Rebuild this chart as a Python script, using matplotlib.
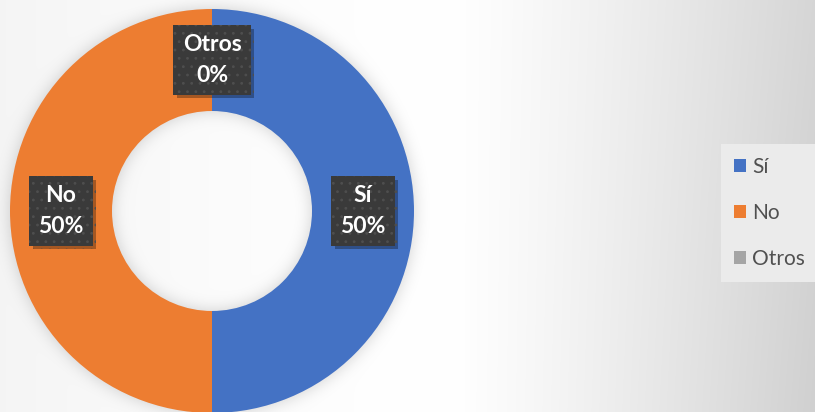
import numpy as np
import matplotlib
matplotlib.use("Agg")
import matplotlib.pyplot as plt
import matplotlib.patheffects as pe

### answers
labels = ["Sí", "No", "Otros"]
values = [50, 50, 0]
colors = ["#4472C4", "#ED7D31", "#A5A5A5"]

W, H = 815, 412
cx, cy = 212, 201          # donut centre (pixels, y up)
r_out, r_in = 202, 100

plt.rcParams['font.family'] = ['Lato', 'DejaVu Sans']
plt.rcParams['hatch.linewidth'] = 0.8

fig = plt.figure(figsize=(W / 100, H / 100), dpi=100)
ax = fig.add_axes([0, 0, 1, 1])

# background: white in the middle, grey towards the right edge
xx, yy = np.meshgrid(np.arange(W) + 0.5, np.arange(H) + 0.5)
right = np.clip((xx - 450) / (W - 450), 0, 1) ** 1.2
left = np.clip((450 - xx) / 450, 0, 1) ** 1.5
bg = 1 - 0.18 * right * (0.9 + 0.12 * yy / H) - 0.04 * left

# soft shadow around the ring
ypix = H - yy
d = np.hypot(xx - cx, ypix - cy)
ring = ((d <= r_out) & (d >= r_in)).astype(float)
def blur(a, s):
    k = np.exp(-0.5 * (np.arange(-3 * s, 3 * s + 1) / s) ** 2)
    k /= k.sum()
    a = np.apply_along_axis(lambda v: np.convolve(v, k, mode='same'), 0, a)
    a = np.apply_along_axis(lambda v: np.convolve(v, k, mode='same'), 1, a)
    return a
shadow = blur(ring, 8)
bg = bg * (1 - 0.18 * shadow)

ax.imshow(np.dstack([bg, bg, bg]), extent=(0, W, 0, H), origin='upper',
          interpolation='bilinear', zorder=0)

wedges, _ = ax.pie(values, colors=colors, startangle=90, counterclock=False,
                   radius=r_out, center=(cx, cy),
                   wedgeprops=dict(width=r_out - r_in, edgecolor='none'))

# data labels in dark dotted boxes at the middle of each ring segment
r_mid = (r_out + r_in) / 2
for w, name, v in zip(wedges, labels, values):
    ang = np.deg2rad((w.theta1 + w.theta2) / 2)
    t = ax.text(cx + r_mid * np.cos(ang), cy + r_mid * np.sin(ang),
                f"{name}\n{v:.0f}%", ha='center', va='center',
                fontsize=16.5, fontweight='bold', color='white', linespacing=1.55,
                zorder=5,
                bbox=dict(boxstyle='square,pad=0.4', facecolor='#3a3a3a',
                          edgecolor='#4e4e4e', linewidth=0, hatch='..'))
    t.get_bbox_patch().set_path_effects([
        pe.SimplePatchShadow(offset=(2.5, -2.5), shadow_rgbFace='black', alpha=0.3),
        pe.Normal()])

leg = ax.legend(wedges, labels, loc='center left',
                bbox_to_anchor=(721 / W, (H - 213) / H), frameon=True,
                fancybox=False, facecolor='#ebebeb', edgecolor='none',
                framealpha=1, fontsize=15, handlelength=0.6, handleheight=0.6,
                handletextpad=0.3, labelspacing=1.25, borderpad=0.6,
                borderaxespad=0)
for txt in leg.get_texts():
    txt.set_color('#505050')

ax.set_xlim(0, W)
ax.set_ylim(0, H)
ax.set_aspect('auto')
ax.axis('off')

fig.savefig("out.png", dpi=100)
